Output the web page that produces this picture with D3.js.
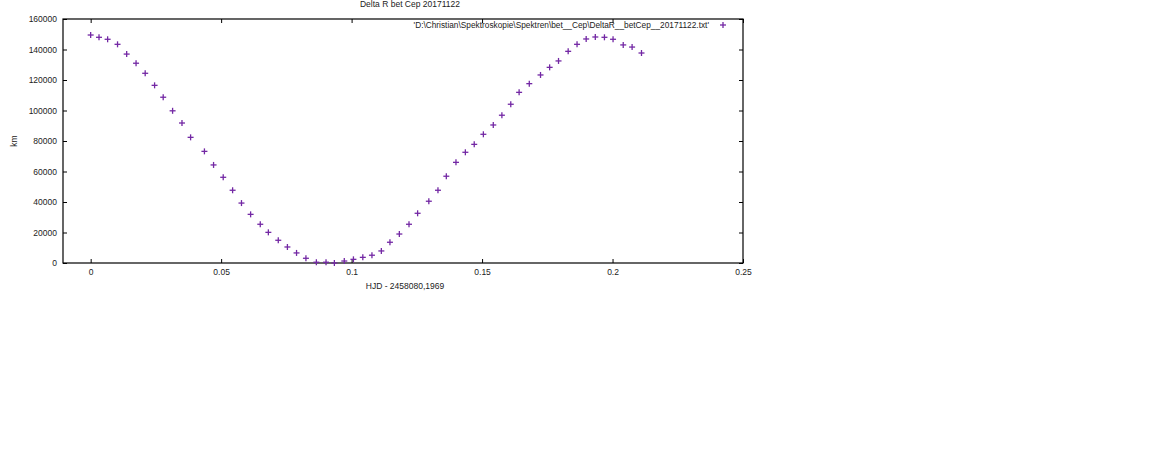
<!DOCTYPE html>
<html>
<head>
<meta charset="utf-8">
<script src="https://cdn.jsdelivr.net/npm/d3@7"></script>
<style>
  body { margin: 0; background: #fff; }
  text { font-family: "Liberation Sans", Arial, sans-serif; fill: #222; }
</style>
</head>
<body>
<svg id="chart" width="1152" height="456"></svg>
<script>
// HJD - 2458080,1969 (days)
var hjd = [0.0000, 0.0032, 0.0065, 0.0103, 0.0138, 0.0174, 0.0209, 0.0245, 0.0278, 0.0314,
    0.0350, 0.0383, 0.0436, 0.0471, 0.0508, 0.0544, 0.0578, 0.0613, 0.0650, 0.0681,
    0.0719, 0.0754, 0.0789, 0.0825, 0.0865, 0.0902, 0.0934, 0.0972, 0.1007, 0.1043,
    0.1078, 0.1114, 0.1147, 0.1183, 0.1220, 0.1253, 0.1296, 0.1331, 0.1363, 0.1400,
    0.1436, 0.1470, 0.1505, 0.1543, 0.1576, 0.1610, 0.1642, 0.1681, 0.1724, 0.1759,
    0.1793, 0.1830, 0.1864, 0.1899, 0.1934, 0.1969, 0.2002, 0.2041, 0.2075, 0.2111];

// Delta R in km
var deltaR = [149500, 148000, 146700, 143400, 137000, 131000, 124400, 116500, 108700, 99800,
    91800, 82400, 73200, 64300, 56200, 47700, 39300, 31900, 25400, 20100,
    14900, 10500, 6600, 3100, 500, 500, 0, 1300, 2400, 3700,
    5100, 7900, 13600, 19000, 25400, 32600, 40500, 47700, 56900, 66000,
    72600, 77800, 84400, 90500, 96900, 104100, 111900, 117600, 123300, 128300,
    132500, 138800, 143400, 146900, 148200, 148000, 146700, 143000, 141600, 137700];

var xTicks = [0, 0.05, 0.1, 0.15, 0.2, 0.25];
var yTicks = [0, 20000, 40000, 60000, 80000, 100000, 120000, 140000, 160000];

var title = "Delta R bet Cep 20171122";
var legendLabel = "'D:\\Christian\\Spektroskopie\\Spektren\\bet__Cep\\DeltaR__betCep__20171122.txt'";

var svg = d3.select("#chart");
var plotLeft = 63, plotRight = 743, plotTop = 19, plotBottom = 263;
var color = "#7328a4";

var x = d3.scaleLinear().domain([-0.0106, 0.25]).range([plotLeft, plotRight]);
var y = d3.scaleLinear().domain([0, 160000]).range([plotBottom, plotTop]);

var data = hjd.map(function(d, i) { return {x: d, y: deltaR[i]}; });

function styleAxis(g) {
    g.select(".domain").remove();
    g.selectAll("line").attr("stroke", "#000");
    g.selectAll("text").style("font-size", "8.5px").attr("fill", "#333");
}

// axes with inward ticks (mirrored on all four sides)
svg.append("g")
    .attr("transform", "translate(0," + plotBottom + ")")
    .call(d3.axisBottom(x).tickValues(xTicks).tickFormat(d3.format("~g")).tickSize(-4).tickPadding(6))
    .call(styleAxis);

svg.append("g")
    .attr("transform", "translate(0," + plotTop + ")")
    .call(d3.axisTop(x).tickValues(xTicks).tickFormat("").tickSize(-4))
    .call(styleAxis);

svg.append("g")
    .attr("transform", "translate(" + plotLeft + ",0)")
    .call(d3.axisLeft(y).tickValues(yTicks).tickFormat(d3.format("d")).tickSize(-4).tickPadding(6))
    .call(styleAxis);

svg.append("g")
    .attr("transform", "translate(" + plotRight + ",0)")
    .call(d3.axisRight(y).tickValues(yTicks).tickFormat("").tickSize(-4))
    .call(styleAxis);

// frame
svg.append("rect")
    .attr("x", plotLeft)
    .attr("y", plotTop)
    .attr("width", plotRight - plotLeft)
    .attr("height", plotBottom - plotTop)
    .attr("fill", "none")
    .attr("stroke", "#000")
    .attr("stroke-width", 1.2);

// points drawn as '+'
function cross(g, size) {
    g.append("line").attr("x1", -size).attr("x2", size).attr("y1", 0).attr("y2", 0);
    g.append("line").attr("x1", 0).attr("x2", 0).attr("y1", -size).attr("y2", size);
}

svg.append("g")
    .attr("stroke", color)
    .attr("stroke-width", 1.3)
    .selectAll("g")
    .data(data)
    .enter().append("g")
    .attr("transform", function(d) { return "translate(" + x(d.x) + "," + y(d.y) + ")"; })
    .each(function() { cross(d3.select(this), 3); });

// legend
svg.append("text")
    .attr("x", 709)
    .attr("y", 28)
    .attr("text-anchor", "end")
    .style("font-size", "8.3px")
    .text(legendLabel);

var key = svg.append("g")
    .attr("stroke", color)
    .attr("stroke-width", 1.3)
    .attr("transform", "translate(723,25)");
cross(key, 3);

// title and axis labels
svg.append("text")
    .attr("x", 410)
    .attr("y", 7)
    .attr("text-anchor", "middle")
    .style("font-size", "8.5px")
    .text(title);

svg.append("text")
    .attr("x", 405)
    .attr("y", 289)
    .attr("text-anchor", "middle")
    .style("font-size", "8.5px")
    .text("HJD - 2458080,1969");

svg.append("text")
    .attr("transform", "translate(17,141) rotate(-90)")
    .attr("text-anchor", "middle")
    .style("font-size", "8.5px")
    .text("km");
</script>
</body>
</html>
